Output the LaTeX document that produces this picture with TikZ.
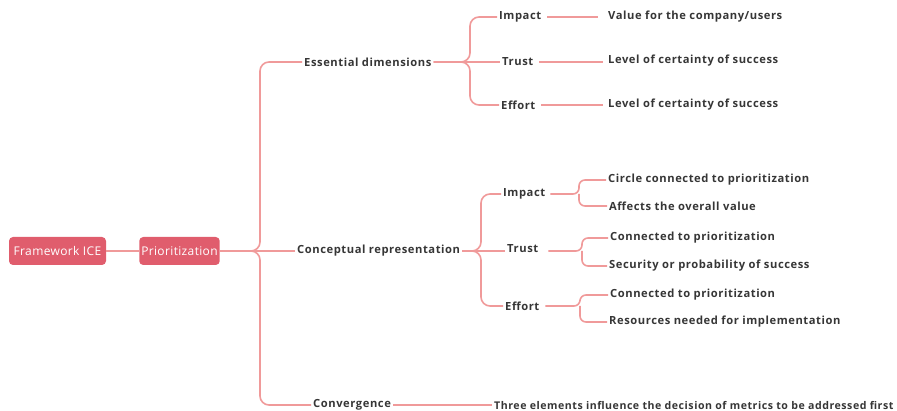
\documentclass[tikz,border=0pt]{standalone}
\usepackage{fontspec}
\setmainfont{Open Sans}
\newfontfamily\lblfont[LetterSpace=5]{Open Sans}
\newfontfamily\boxfont[LetterSpace=3]{Open Sans}
\definecolor{edge}{HTML}{F09A9A}
\definecolor{boxred}{HTML}{E05D6D}
\definecolor{ink}{HTML}{363636}
\begin{document}
\begin{tikzpicture}[x=1pt,y=-1pt,
  box/.style={fill=boxred, rounded corners=4pt, text=white,
    font=\boxfont\fontsize{12}{14}\selectfont, minimum height=28pt, inner xsep=2pt},
  lbl/.style={text=ink, font=\lblfont\bfseries\fontsize{11.2}{13}\selectfont,
    inner xsep=2pt, inner ysep=1pt, anchor=west},
  longlbl/.style={lbl, font=\lblfont\bfseries\fontsize{10.6}{13}\selectfont},
  link/.style={draw=edge, line width=1.6pt, rounded corners=9pt},
  twig/.style={draw=edge, line width=1.6pt, rounded corners=6pt}]
\useasboundingbox (0,0) rectangle (897,411);

% root and hub
\node[box, minimum width=97pt] (ice) at (57.5,251) {Framework ICE};
\node[box, minimum width=77pt] (prio) at (179.5,251) {Prioritization};

% first level
\node[lbl] (ess)  at (302,62)  {Essential dimensions};
\node[lbl] (conc) at (295,251) {Conceptual representation};
\node[lbl] (conv) at (311,405) {Convergence};

% essential dimensions
\node[lbl] (eimp) at (497,17)  {Impact};
\node[lbl] (etru) at (500,62)  {Trust};
\node[lbl] (eeff) at (499,105) {Effort};
\node[lbl] (v1) at (606,17)  {Value for the company/users};
\node[lbl] (v2) at (606,61)  {Level of certainty of success};
\node[lbl] (v3) at (606,105) {Level of certainty of success};

% conceptual representation
\node[lbl] (cimp) at (501,194) {Impact};
\node[lbl] (ctru) at (505,249) {Trust};
\node[lbl] (ceff) at (503,306) {Effort};
\node[lbl] (d1) at (606,180) {Circle connected to prioritization};
\node[lbl] (d2) at (607,206) {Affects the overall value};
\node[lbl] (d3) at (608,238) {Connected to prioritization};
\node[lbl] (d4) at (607,266) {Security or probability of success};
\node[lbl] (d5) at (608,295) {Connected to prioritization};
\node[lbl] (d6) at (607,322) {Resources needed for implementation};

% convergence
\node[longlbl] (fin) at (492,405) {Three elements influence the decision of metrics to be addressed first};

% connectors
\draw[link] (ice.east) -- (prio.west);
\coordinate (trunk) at (260,251);
\draw[link] (prio.east) -- (trunk) |- (ess.west);
\draw[link] (prio.east) -- (trunk) |- (conv.west);
\draw[link] (prio.east) -- (conc.west);

\coordinate (ej) at (470,62);
\draw[link] (ess.east) -- (ej) |- (eimp.west);
\draw[link] (ess.east) -- (etru.west);
\draw[link] (ess.east) -- (ej) |- (eeff.west);
\draw[link, shorten <=4pt, shorten >=8pt] (eimp.east) -- (eimp.east -| v1.west);
\draw[link, shorten <=4pt, shorten >=3pt] (etru.east) -- (etru.east -| v2.west);
\draw[link, shorten <=4pt, shorten >=3pt] (eeff.east) -- (v3.west);

\coordinate (cj) at (481,251);
\draw[link] (conc.east) -- (cj) |- (cimp.west);
\draw[link] (conc.east) -- (ctru.west |- cj);
\draw[link] (conc.east) -- (cj) |- (ceff.west);

\coordinate (ij) at (579,194);
\draw[twig, shorten <=3pt] (cimp.east) -- (ij) |- (d1.west);
\draw[twig] (ij) |- (d2.west);
\coordinate (tj) at (582,251);
\draw[twig, shorten <=8pt] (ctru.east |- tj) -- (tj) |- (d3.west);
\draw[twig] (tj) |- (d4.west);
\coordinate (fj) at (580,306);
\draw[twig, shorten <=4pt] (ceff.east) -- (fj) |- (d5.west);
\draw[twig] (fj) |- (d6.west);

\draw[link] (conv.east) -- (fin.west);
\end{tikzpicture}
\end{document}
